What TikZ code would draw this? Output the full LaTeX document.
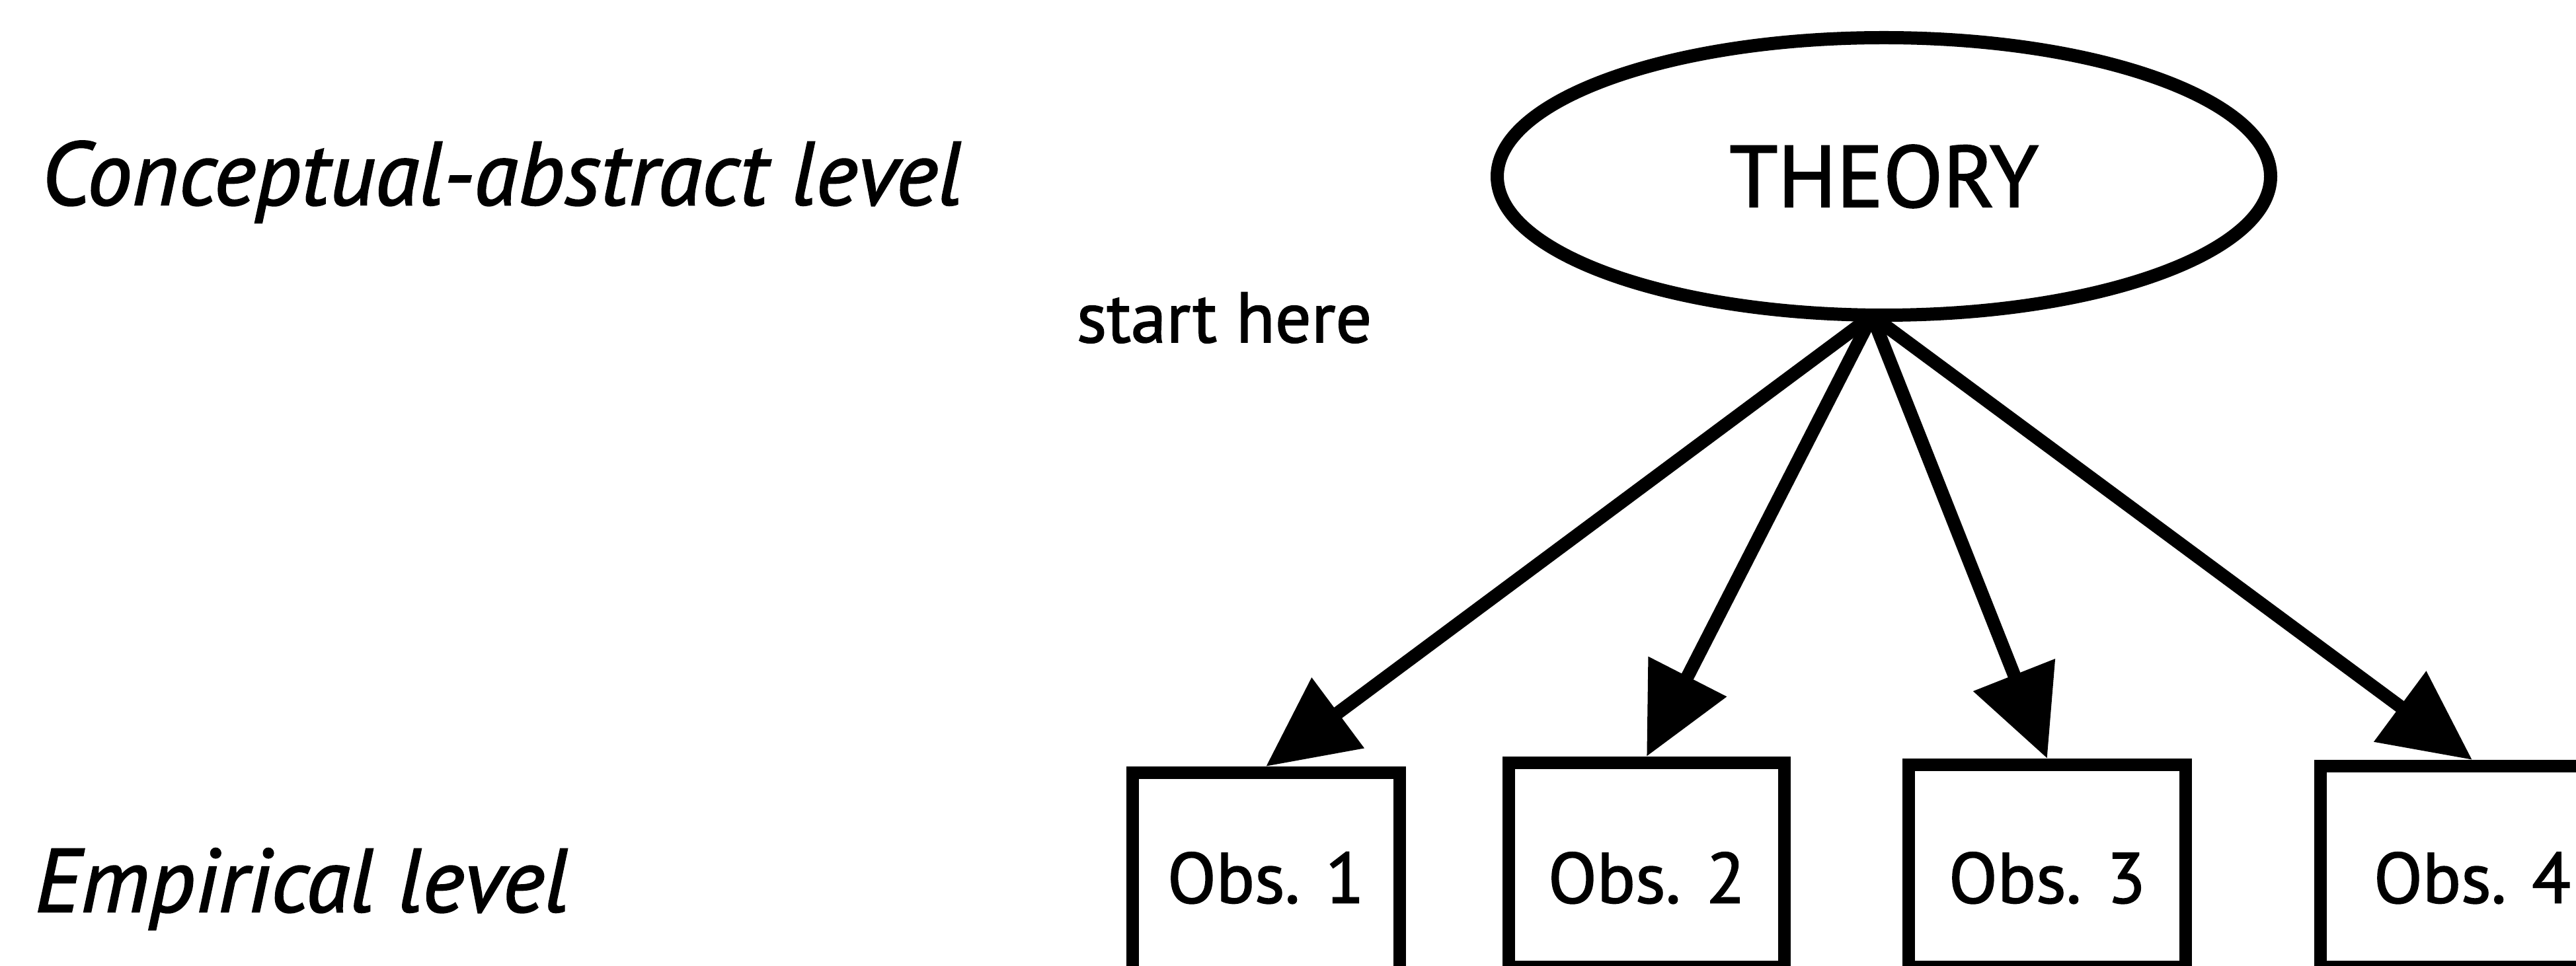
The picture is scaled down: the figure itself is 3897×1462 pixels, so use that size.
\documentclass[tikz,border=0pt]{standalone}
\usepackage{fontspec}
\setmainfont{PT Sans}[FakeBold=1.6]
\usetikzlibrary{shapes.geometric,arrows.meta}
\begin{document}
\begin{tikzpicture}[x=0.25pt,y=-0.25pt,
  lvl/.style={font=\fontsize{34}{40}\selectfont\itshape, inner sep=0pt, anchor=base west},
  hint/.style={font=\fontsize{27}{32}\selectfont, inner sep=0pt, anchor=base west},
  theo/.style={ellipse, draw, line width=5pt, minimum width=292.5pt, minimum height=105pt, inner sep=0pt, font=\fontsize{33}{38}\selectfont},
  obsbox/.style={draw, line width=4.75pt, inner sep=0pt, font=\fontsize{27}{32}\selectfont, anchor=north, text depth=24.25pt},
  link/.style={line width=5pt, -{Triangle[length=34pt,width=32pt]}},
]
\useasboundingbox (0,0) rectangle (3897,1462);
\clip (0,0) rectangle (3897,1462);
\node[lvl] (concept) at (62,310) {Conceptual-abstract level};
\node[lvl] (emp) at (52,1380) {Empirical level};
\node[hint] (start) at (1628,518) {start here};
\node[theo] (theory) at (2850,267) {THEORY};
\node[obsbox, minimum width=101pt, text height=49.25pt, text depth=30.75pt] (o1) at (1915,1160) {Obs. 1};
\node[obsbox, minimum width=104.25pt, text height=53pt] (o2) at (2491,1145) {Obs. 2};
\node[obsbox, minimum width=104.75pt, text height=52.25pt] (o3) at (3097,1148) {Obs. 3};
\node[obsbox, minimum width=115pt, text height=51.75pt] (o4) at (3740,1150) {Obs. 4};
\coordinate (src) at (2832,478);
\draw[link] (src) -- (o1.north);
\draw[link] (src) -- (o2.north);
\draw[link] (src) -- (o3.north);
\draw[link] (src) -- (o4.north);
\end{tikzpicture}
\end{document}
